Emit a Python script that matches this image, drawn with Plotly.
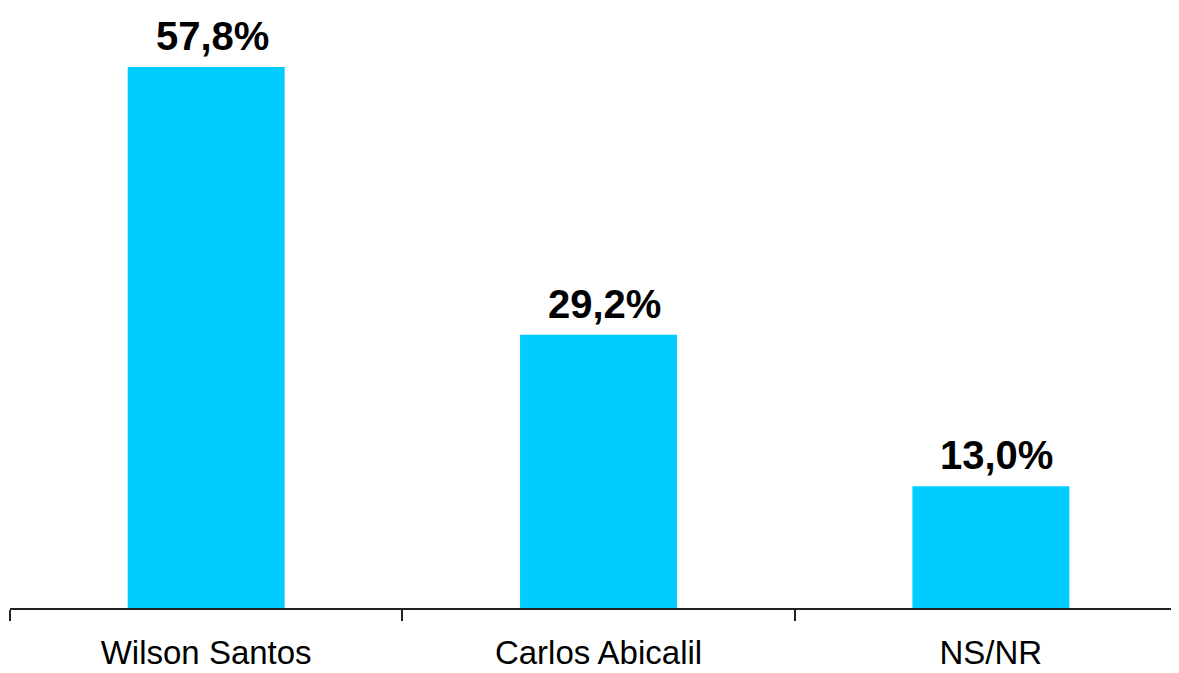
import plotly.graph_objects as go

categories = ["Wilson Santos", "Carlos Abicalil", "NS/NR"]
values = [57.8, 29.2, 13.0]
labels = ["57,8%", "29,2%", "13,0%"]

fig = go.Figure(go.Bar(
    x=categories, y=values,
    marker=dict(color="#00CCFF", line=dict(width=0)),
    width=0.4,
))

for c, v, t in zip(categories, values, labels):
    fig.add_annotation(x=c, y=v, text=f"<b>{t}</b>", showarrow=False,
                       yanchor="bottom", yshift=7, xshift=6,
                       font=dict(family="Liberation Sans, Arial", size=40, color="black"))

fig.update_layout(
    width=1171, height=665,
    margin=dict(l=2, r=0, t=0, b=65),
    plot_bgcolor="white", paper_bgcolor="white",
    showlegend=False,
    xaxis=dict(
        range=[-0.5, 2.5 - 8/392],
        automargin=False,
        tickson="boundaries", ticks="outside", ticklen=11, tickwidth=1.5, tickcolor="#222",
        showline=True, linecolor="#222", linewidth=1.5,
        showgrid=False, zeroline=False,
        tickfont=dict(family="Liberation Sans, Arial", size=33, color="black"),
        ticklabelstandoff=15,
    ),
    yaxis=dict(range=[0, 64.1], visible=False, showgrid=False, zeroline=False,
               automargin=False),
)

fig.write_html("out.html")
